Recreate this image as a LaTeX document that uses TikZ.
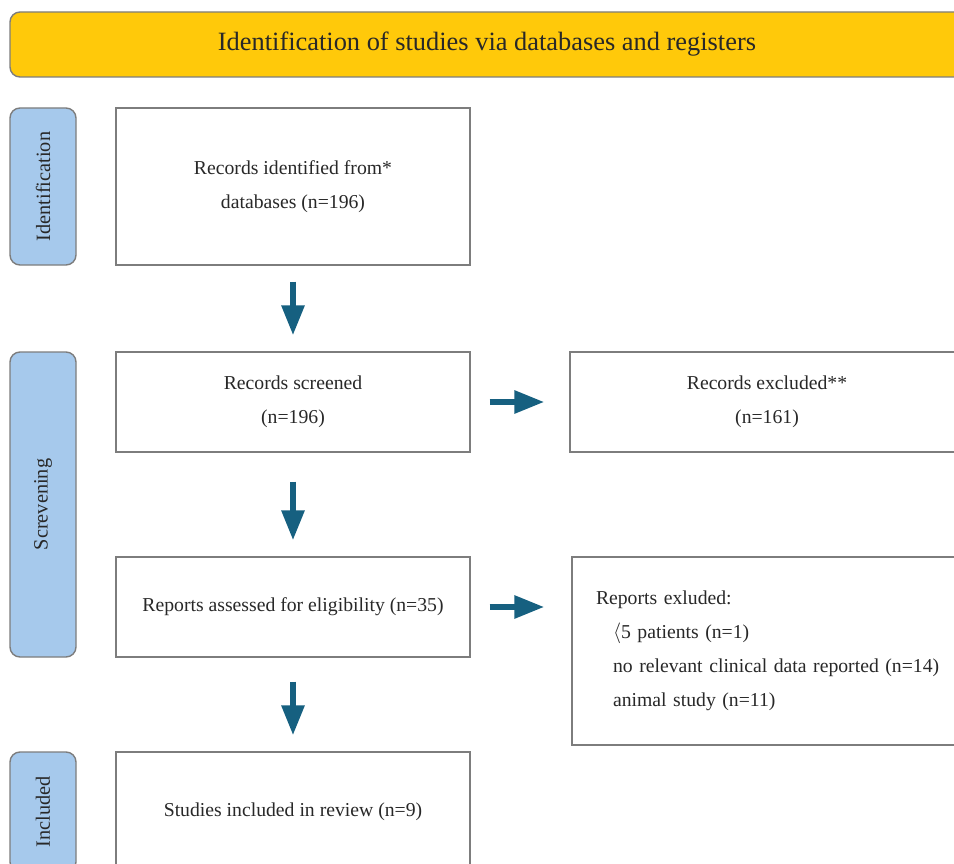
\documentclass[tikz,border=0pt]{standalone}
\usepackage{fontspec}
\setmainfont{Liberation Serif}
\usetikzlibrary{arrows.meta}
\definecolor{PrismaYellow}{RGB}{255,201,10}
\definecolor{PrismaBlue}{RGB}{166,201,236}
\definecolor{PrismaEdge}{RGB}{125,125,125}
\definecolor{PrismaArrow}{RGB}{22,96,128}
\definecolor{PrismaText}{RGB}{40,40,40}
\tikzset{
  prisma/box/.style={
    draw=PrismaEdge,
    line width=1.4pt,
    fill=white,
    align=center,
    text=PrismaText,
    inner sep=0pt,
    font=\fontsize{19.7}{34}\selectfont
  },
  prisma/side/.style={
    draw=PrismaEdge,
    line width=1.4pt,
    rounded corners=10pt,
    fill=PrismaBlue,
    text=PrismaText,
    rotate=90,
    minimum height=66pt,
    inner sep=0pt,
    font=\fontsize{20.3}{24}\selectfont
  },
  prisma/banner/.style={
    draw=PrismaEdge,
    line width=1.4pt,
    rounded corners=10pt,
    fill=PrismaYellow,
    text=PrismaText,
    minimum width=954pt,
    minimum height=65pt,
    font=\fontsize{26.4}{30}\selectfont
  },
  prisma/arrow/.style={-{Triangle[length=30pt,width=22pt]}, line width=6pt, draw=PrismaArrow}
}

\begin{document}
\begin{tikzpicture}[x=1pt,y=-1pt]
  \useasboundingbox (0,0) rectangle (954,864);
  \clip (0,0) rectangle (954,864);
  % header and phase labels
  \node[prisma/banner] (header) at (487,44.5) {Identification of studies via databases and registers};
  \node[prisma/side,minimum width=157pt] (identification) at (43,186.5) {Identification};
  \node[prisma/side,minimum width=305pt] (screening) at (43,504.5) {Screvening};
  \node[prisma/side,minimum width=120pt] (included) at (43,812) {Included};

  % main column
  \node[prisma/box,minimum width=354pt,minimum height=157pt] (records) at (293,186.5) {Records identified from*\\databases (n=196)};
  \node[prisma/box,minimum width=354pt,minimum height=100pt] (screened) at (293,402) {Records screened\\(n=196)};
  \node[prisma/box,minimum width=354pt,minimum height=100pt] (assessed) at (293,607) {Reports assessed for eligibility (n=35)};
  \node[prisma/box,minimum width=354pt,minimum height=120pt] (studies) at (293,812) {Studies included in review (n=9)};

  % exclusions
  \node[prisma/box,minimum width=394pt,minimum height=100pt] (excluded) at (767,402) {Records excluded**\\(n=161)};
  \node[prisma/box,minimum width=394pt,minimum height=188pt,align=left,text width=346pt] (rexcluded) at (769,651)
    {Reports exluded:\\
     \hspace*{17pt}$\langle$5 patients (n=1)\\
     \hspace*{17pt}no relevant clinical data reported (n=14)\\
     \hspace*{17pt}animal study (n=11)};

  \draw[prisma/arrow,shorten <=16pt,shorten >=16pt] (records) -- (screened);
  \draw[prisma/arrow,shorten <=29pt,shorten >=16pt] (screened) -- (assessed);
  \draw[prisma/arrow,shorten <=24pt,shorten >=16pt] (assessed) -- (studies);
  \draw[prisma/arrow,shorten <=19pt,shorten >=25pt] (screened) -- (excluded);
  \draw[prisma/arrow,shorten <=19pt,shorten >=27pt] (assessed.east) -- (assessed.east -| rexcluded.west);
\end{tikzpicture}
\end{document}
